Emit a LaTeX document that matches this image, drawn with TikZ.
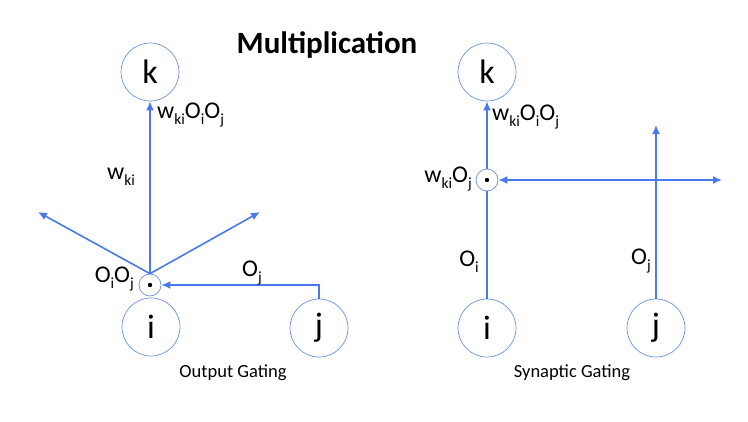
\documentclass[tikz,border=0pt]{standalone}
\usepackage{fontspec}
\setmainfont{Carlito}
\usetikzlibrary{arrows.meta}
\definecolor{linkblue}{RGB}{72,122,238}
\definecolor{ringblue}{RGB}{105,145,225}
\newcommand{\lowidx}[1]{\raisebox{-0.5ex}{\fontsize{15.5}{15.5}\selectfont #1}}
\tikzset{
  unit/.style={circle,draw=ringblue,line width=0.7pt,minimum size=58pt,inner sep=0pt,font=\fontsize{34}{34}\selectfont},
  gate/.style={circle,draw=ringblue,line width=0.7pt,minimum size=22pt,inner sep=0pt},
  link/.style={draw=linkblue,line width=1.6pt},
  lbl/.style={inner sep=0pt,font=\fontsize{24}{24}\selectfont},
  caption/.style={inner sep=0pt,font=\fontsize{18.5}{18.5}\selectfont}
}
\begin{document}
\begin{tikzpicture}[x=1pt,y=-1pt,>={Latex[length=9pt,width=8pt]}]
    \useasboundingbox (0,0) rectangle (748,421);
    \node [inner sep=0pt,font=\fontsize{31}{31}\selectfont\bfseries] (title) at (327,45) {Multiplication};
    % output gating
    \node [unit] (k1) at (150,72) {k};
    \node [unit] (i1) at (151,327) {i};
    \node [unit] (j1) at (319,328) {j};
    \node [gate] (g1) at (150,285) {};
    \fill (g1) circle (2.2);
    \coordinate (l1) at (38,212);
    \coordinate (r1) at (260,212);
    \draw [link,->] (g1.north) -- (k1.south);
    \draw [link,->] (g1.north) -- (l1);
    \draw [link,->] (g1.north) -- (r1);
    \draw [link,->] (j1.north) |- (g1.east);
    \node [lbl,anchor=west] (o1) at (157,115) {w\lowidx{ki}O\lowidx{i}O\lowidx{j}};
    \node [lbl] (w1) at (121,177) {w\lowidx{ki}};
    \node [lbl,anchor=east] (p1) at (134,279) {O\lowidx{i}O\lowidx{j}};
    \node [lbl] (q1) at (252,273) {O\lowidx{j}};
    \node [caption] (c1) at (233,373) {Output Gating};
    % synaptic gating
    \node [unit] (k2) at (487,72) {k};
    \node [unit] (i2) at (487,328) {i};
    \node [unit] (j2) at (656,328) {j};
    \node [gate] (g2) at (487,180) {};
    \fill (g2) circle (2.2);
    \coordinate (t2) at (656,125);
    \coordinate (e2) at (722,180);
    \draw [link] (i2.north) -- (g2.south);
    \draw [link,->] (g2.north) -- (k2.south);
    \draw [link,->] (j2.north) -- (t2);
    \draw [link,<->] (g2.east) -- (e2);
    \node [lbl,anchor=west] (o2) at (492,117) {w\lowidx{ki}O\lowidx{i}O\lowidx{j}};
    \node [lbl,anchor=east] (p2) at (472,179) {w\lowidx{ki}O\lowidx{j}};
    \node [lbl] (q2) at (469,262) {O\lowidx{i}};
    \node [lbl] (r2) at (641,261) {O\lowidx{j}};
    \node [caption] (c2) at (572,373) {Synaptic Gating};
\end{tikzpicture}
\end{document}
